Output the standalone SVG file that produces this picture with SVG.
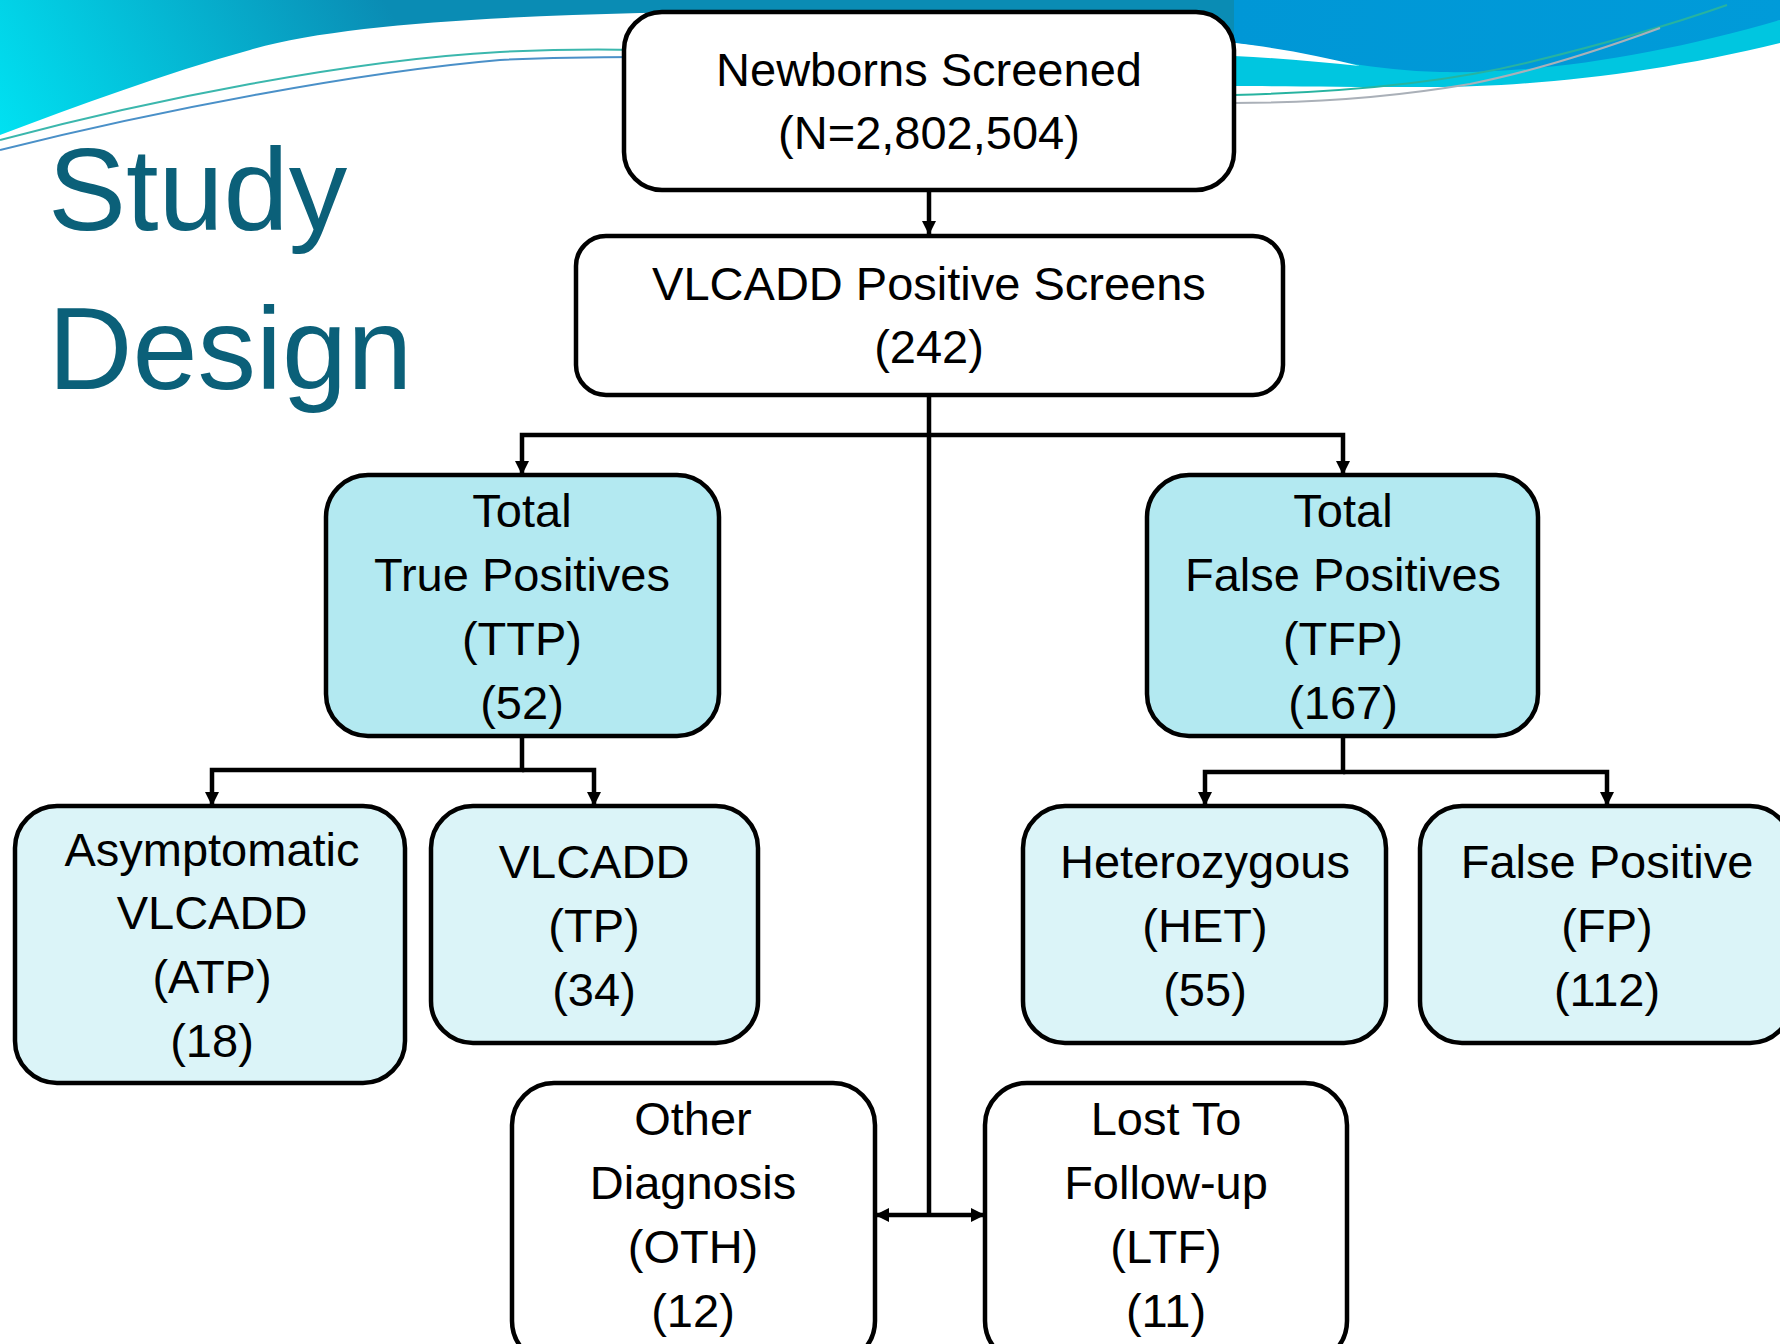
<svg xmlns="http://www.w3.org/2000/svg" width="1780" height="1344" viewBox="0 0 1780 1344">
<style>
.box{stroke:#000;stroke-width:4.5}
.w{fill:#fff}
.dk{fill:#b3e9f1}
.lt{fill:#dbf4f8}
.t{font-family:"Liberation Sans",Arial,sans-serif;font-size:47px;fill:#000;text-anchor:middle}
.title{font-family:"Liberation Sans",Arial,sans-serif;font-size:117px;fill:#0b6079}
.c{fill:none;stroke:#000;stroke-width:4.5}
</style>
<defs>
<linearGradient id="gl" gradientUnits="userSpaceOnUse" x1="0" y1="140" x2="350" y2="-60">
<stop offset="0" stop-color="#00e2f2"/>
<stop offset="1" stop-color="#0a8cb4"/>
</linearGradient>
<linearGradient id="gr" gradientUnits="userSpaceOnUse" x1="1234" y1="0" x2="1780" y2="60">
<stop offset="0" stop-color="#0097d6"/>
<stop offset="1" stop-color="#009bd9"/>
</linearGradient>
<marker id="arr" viewBox="0 0 14 14" refX="14" refY="7" markerWidth="14" markerHeight="14" markerUnits="userSpaceOnUse" orient="auto">
<path d="M0,0 L14,7 L0,14 Z" fill="#000"/>
</marker>
</defs>
<rect width="1780" height="1344" fill="#fff"/>
<g id="background">
<path d="M0,0 H1240 V43 C1000,20 800,8 640,13 C480,17 330,26 250,50 C160,75 80,105 0,135 Z" fill="url(#gl)"/>
<path d="M1234,50 C1420,40 1600,30 1780,20 V43 C1650,75 1520,88 1420,87 C1340,87 1280,86 1234,86 Z" fill="#00c6e0"/>
<path d="M1234,0 H1780 V20 C1660,55 1540,74 1440,72 C1360,70 1300,52 1234,43 Z" fill="url(#gr)"/>
<path d="M1234,43 C1280,48 1320,56 1360,66 C1320,62 1280,58 1234,56 Z" fill="#fff"/>
<path d="M0,140 C150,100 350,60 500,52 C560,49 600,49 640,50" fill="none" stroke="#3bb7ad" stroke-width="2"/>
<path d="M0,150 C160,110 360,72 500,60 C560,57 600,57 640,57" fill="none" stroke="#4a90c8" stroke-width="2"/>
<path d="M1234,95 C1350,92 1450,82 1530,62 C1600,45 1670,25 1727,5" fill="none" stroke="#27b3a0" stroke-width="2"/>
<path d="M1234,103 C1320,103 1400,96 1470,84 C1530,72 1600,50 1660,28" fill="none" stroke="#aab0b8" stroke-width="2"/>
</g>
<g id="title">
<text class="title" x="48" y="230">Study</text>
<text class="title" x="48" y="389">Design</text>
</g>
<g id="connectors">
<path class="c" d="M929,190 V235" marker-end="url(#arr)"/>
<path class="c" d="M929,395 V1215"/>
<path class="c" d="M929,435 H522 V475" marker-end="url(#arr)"/>
<path class="c" d="M929,435 H1343 V475" marker-end="url(#arr)"/>
<path class="c" d="M522,737 V770 H212 V806" marker-end="url(#arr)"/>
<path class="c" d="M522,770 H594 V806" marker-end="url(#arr)"/>
<path class="c" d="M1343,737 V772 H1205 V806" marker-end="url(#arr)"/>
<path class="c" d="M1343,772 H1607 V806" marker-end="url(#arr)"/>
<path class="c" d="M929,1215 H875" marker-end="url(#arr)"/>
<path class="c" d="M929,1215 H985" marker-end="url(#arr)"/>
</g>
<g id="newborns">
<rect class="box w" x="624" y="12" width="610" height="178" rx="38"/>
<text class="t" x="929" y="86">Newborns Screened</text>
<text class="t" x="929" y="149">(N=2,802,504)</text>
</g>
<g id="positive-screens">
<rect class="box w" x="576" y="236" width="707" height="159" rx="30"/>
<text class="t" x="929" y="300">VLCADD Positive Screens</text>
<text class="t" x="929" y="363">(242)</text>
</g>
<g id="ttp">
<rect class="box dk" x="326" y="475" width="393" height="261" rx="42"/>
<text class="t" x="522" y="527">Total</text>
<text class="t" x="522" y="591">True Positives</text>
<text class="t" x="522" y="655">(TTP)</text>
<text class="t" x="522" y="719">(52)</text>
</g>
<g id="tfp">
<rect class="box dk" x="1147" y="475" width="391" height="261" rx="42"/>
<text class="t" x="1343" y="527">Total</text>
<text class="t" x="1343" y="591">False Positives</text>
<text class="t" x="1343" y="655">(TFP)</text>
<text class="t" x="1343" y="719">(167)</text>
</g>
<g id="atp">
<rect class="box lt" x="15" y="806" width="390" height="277" rx="42"/>
<text class="t" x="212" y="866">Asymptomatic</text>
<text class="t" x="212" y="929">VLCADD</text>
<text class="t" x="212" y="993">(ATP)</text>
<text class="t" x="212" y="1057">(18)</text>
</g>
<g id="tp">
<rect class="box lt" x="431" y="806" width="327" height="237" rx="42"/>
<text class="t" x="594" y="878">VLCADD</text>
<text class="t" x="594" y="942">(TP)</text>
<text class="t" x="594" y="1006">(34)</text>
</g>
<g id="het">
<rect class="box lt" x="1023" y="806" width="363" height="237" rx="42"/>
<text class="t" x="1205" y="878">Heterozygous</text>
<text class="t" x="1205" y="942">(HET)</text>
<text class="t" x="1205" y="1006">(55)</text>
</g>
<g id="fp">
<rect class="box lt" x="1420" y="806" width="372" height="237" rx="42"/>
<text class="t" x="1607" y="878">False Positive</text>
<text class="t" x="1607" y="942">(FP)</text>
<text class="t" x="1607" y="1006">(112)</text>
</g>
<g id="oth">
<rect class="box w" x="512" y="1083" width="363" height="280" rx="42"/>
<text class="t" x="693" y="1135">Other</text>
<text class="t" x="693" y="1199">Diagnosis</text>
<text class="t" x="693" y="1263">(OTH)</text>
<text class="t" x="693" y="1327">(12)</text>
</g>
<g id="ltf">
<rect class="box w" x="985" y="1083" width="362" height="280" rx="42"/>
<text class="t" x="1166" y="1135">Lost To</text>
<text class="t" x="1166" y="1199">Follow-up</text>
<text class="t" x="1166" y="1263">(LTF)</text>
<text class="t" x="1166" y="1327">(11)</text>
</g>
</svg>
